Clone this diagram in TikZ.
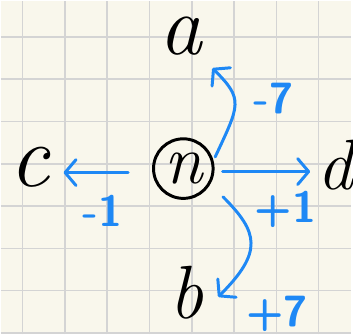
\documentclass[tikz,border=0pt]{standalone}
\usepackage{fontspec}
\usetikzlibrary{arrows.meta}
\definecolor{paper}{RGB}{249,247,236}
\definecolor{gridgray}{RGB}{212,212,212}
\definecolor{penblue}{RGB}{30,136,245}

\begin{document}
\begin{tikzpicture}[x=42.6pt,y=42.6pt,
  pen/.style={penblue,line width=3pt,line cap=round,-{Straight Barb[length=11pt,width=26pt,round]}},
  letter/.style={inner sep=0pt,font=\fontsize{#1}{#1}\selectfont\itshape},
  num/.style={penblue,inner sep=0pt,font=\fontsize{44}{44}\selectfont\sffamily\bfseries}]
  \fill[paper] (-0.516,-0.033) rectangle (7.770,7.854);
  \draw[gridgray,line width=1.6pt,step=1] (-0.516,-0.033) grid (7.770,7.854);
  \node[draw,circle,line width=3pt,minimum size=60pt,inner sep=0pt,font=\fontsize{70}{70}\selectfont\itshape] (n) at (3.80,3.886) {n};
  \node[letter=86] (a) at (3.73,7.02) {a};
  \node[letter=76] (b) at (3.87,0.95) {b};
  \node[letter=90] (c) at (0.16,3.91) {c};
  \node[letter=72] (d) at (7.39,3.96) {d};
  \draw[pen,shorten <=4pt,shorten >=18pt] (n.15) to[out=65,in=-45,looseness=1.5] (a.-45);
  \draw[pen,shorten <=8pt,shorten >=7pt] ([yshift=-3pt]n.east) -- ([yshift=-3pt]n.east -| d.west);
  \draw[pen,shorten <=24pt,shorten >=14pt] ([yshift=-4pt]n.west) -- ([yshift=-4pt]n.west -| c.east);
  \draw[pen,shorten <=18pt,shorten >=4pt] (n.-30) to[out=-45,in=45,looseness=1.5] ([xshift=12pt,yshift=-7pt]b.east);
  \node[num] (l1) at (5.94,5.55) {-7};
  \node[num] (l2) at (6.22,2.92) {+1};
  \node[num] (l3) at (1.88,2.88) {-1};
  \node[num] (l4) at (6.01,0.44) {+7};
\end{tikzpicture}
\end{document}
